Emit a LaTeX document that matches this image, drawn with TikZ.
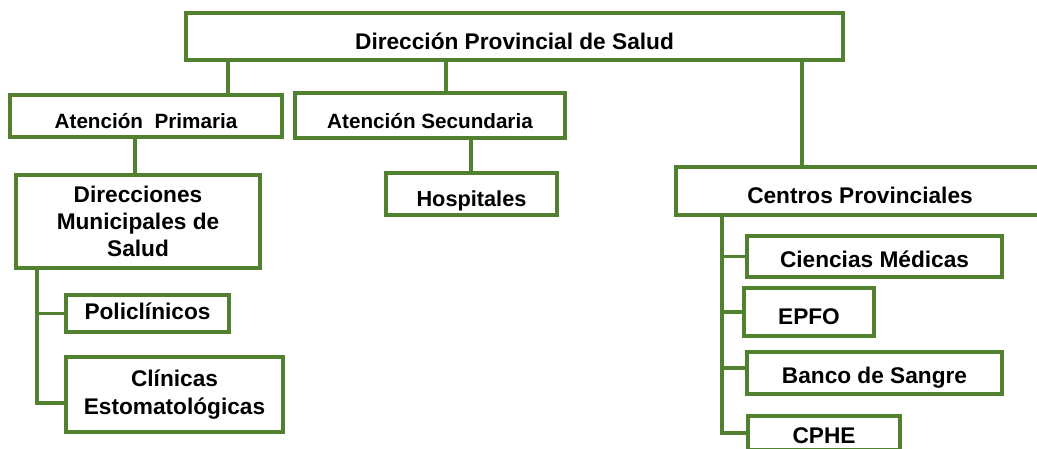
\documentclass[tikz,border=0pt]{standalone}
\usepackage{fontspec}
\setmainfont{Liberation Sans}
\usepackage{tikz}
\usetikzlibrary{positioning}
\definecolor{orggreen}{RGB}{80,128,48}

\begin{document}
\begin{tikzpicture}[x=0.75pt, y=-0.75pt,
    unit/.style={draw=orggreen, line width=2.7pt, inner sep=0pt, text=black,
      font=\bfseries\fontsize{17}{20.5}\selectfont},
    sz/.style 2 args={minimum width=#1*0.75pt, minimum height=#2*0.75pt},
    low/.style={text height=19pt, text depth=0pt},
    link/.style={draw=orggreen, line width=2.7pt}]
    \useasboundingbox (0,0) rectangle (1037,449);
    \clip (0,0) rectangle (1037,449);
    % head office
    \node[unit, low, sz={657}{47}] (dps) at (514.5,36.5) {Dirección Provincial de Salud};
    % second level
    \node[unit, low, sz={272}{42}, font=\bfseries\fontsize{15.5}{18}\selectfont] (ap) at (146,116) {Atención~ Primaria};
    \node[unit, low, sz={270}{45}, font=\bfseries\fontsize{15.5}{18}\selectfont] (as) at (430,115.5) {Atención Secundaria};
    \node[unit, low, sz={368}{48}] (cp) at (860,191) {Centros Provinciales};
    % third level
    \node[unit, sz={244}{93}, align=center] (dms) at (138,221.5) {Direcciones\\Municipales de\\Salud};
    \node[unit, low, sz={171}{42}, font=\bfseries\fontsize{16.3}{19}\selectfont] (hosp) at (471.5,194) {Hospitales};
    \node[unit, sz={163}{37}, text height=9pt, text depth=0pt] (pol) at (147.5,313.5) {Policlínicos};
    \node[unit, sz={217}{75}, align=center] (cli) at (174.5,394.5) {Clínicas\\Estomatológicas};
    \node[unit, low, sz={255}{41}, text height=17pt] (cm) at (874.5,256.5) {Ciencias Médicas};
    \node[unit, low, sz={130}{48}] (epfo) at (809,312) {EPFO};
    \node[unit, low, sz={255}{42}, text height=16pt] (bs) at (874.5,373) {Banco de Sangre};
    \node[unit, low, sz={152}{34}, text height=15pt] (cphe) at (824,433) {CPHE};

    \draw[link] (dps.south -| 228,0) -- (ap.north -| 228,0);
    \draw[link] (dps.south -| 446,0) -- (as.north -| 446,0);
    \draw[link] (dps.south -| 802,0) -- (cp.north -| 802,0);
    \draw[link] (ap.south -| 135,0) -- (dms.north -| 135,0);
    \draw[link] (as.south -| 471,0) -- (hosp.north -| 471,0);
    \draw[link] (dms.south -| 37,0) |- (pol.west);
    \draw[link] (dms.south -| 37,0) |- (cli.west |- 0,403);
    \draw[link] (cp.south -| 722,0) |- (cm.west);
    \draw[link] (cp.south -| 722,0) |- (epfo.west);
    \draw[link] (cp.south -| 722,0) |- (bs.west |- 0,368);
    \draw[link] (cp.south -| 722,0) |- (cphe.west);
\end{tikzpicture}
\end{document}
